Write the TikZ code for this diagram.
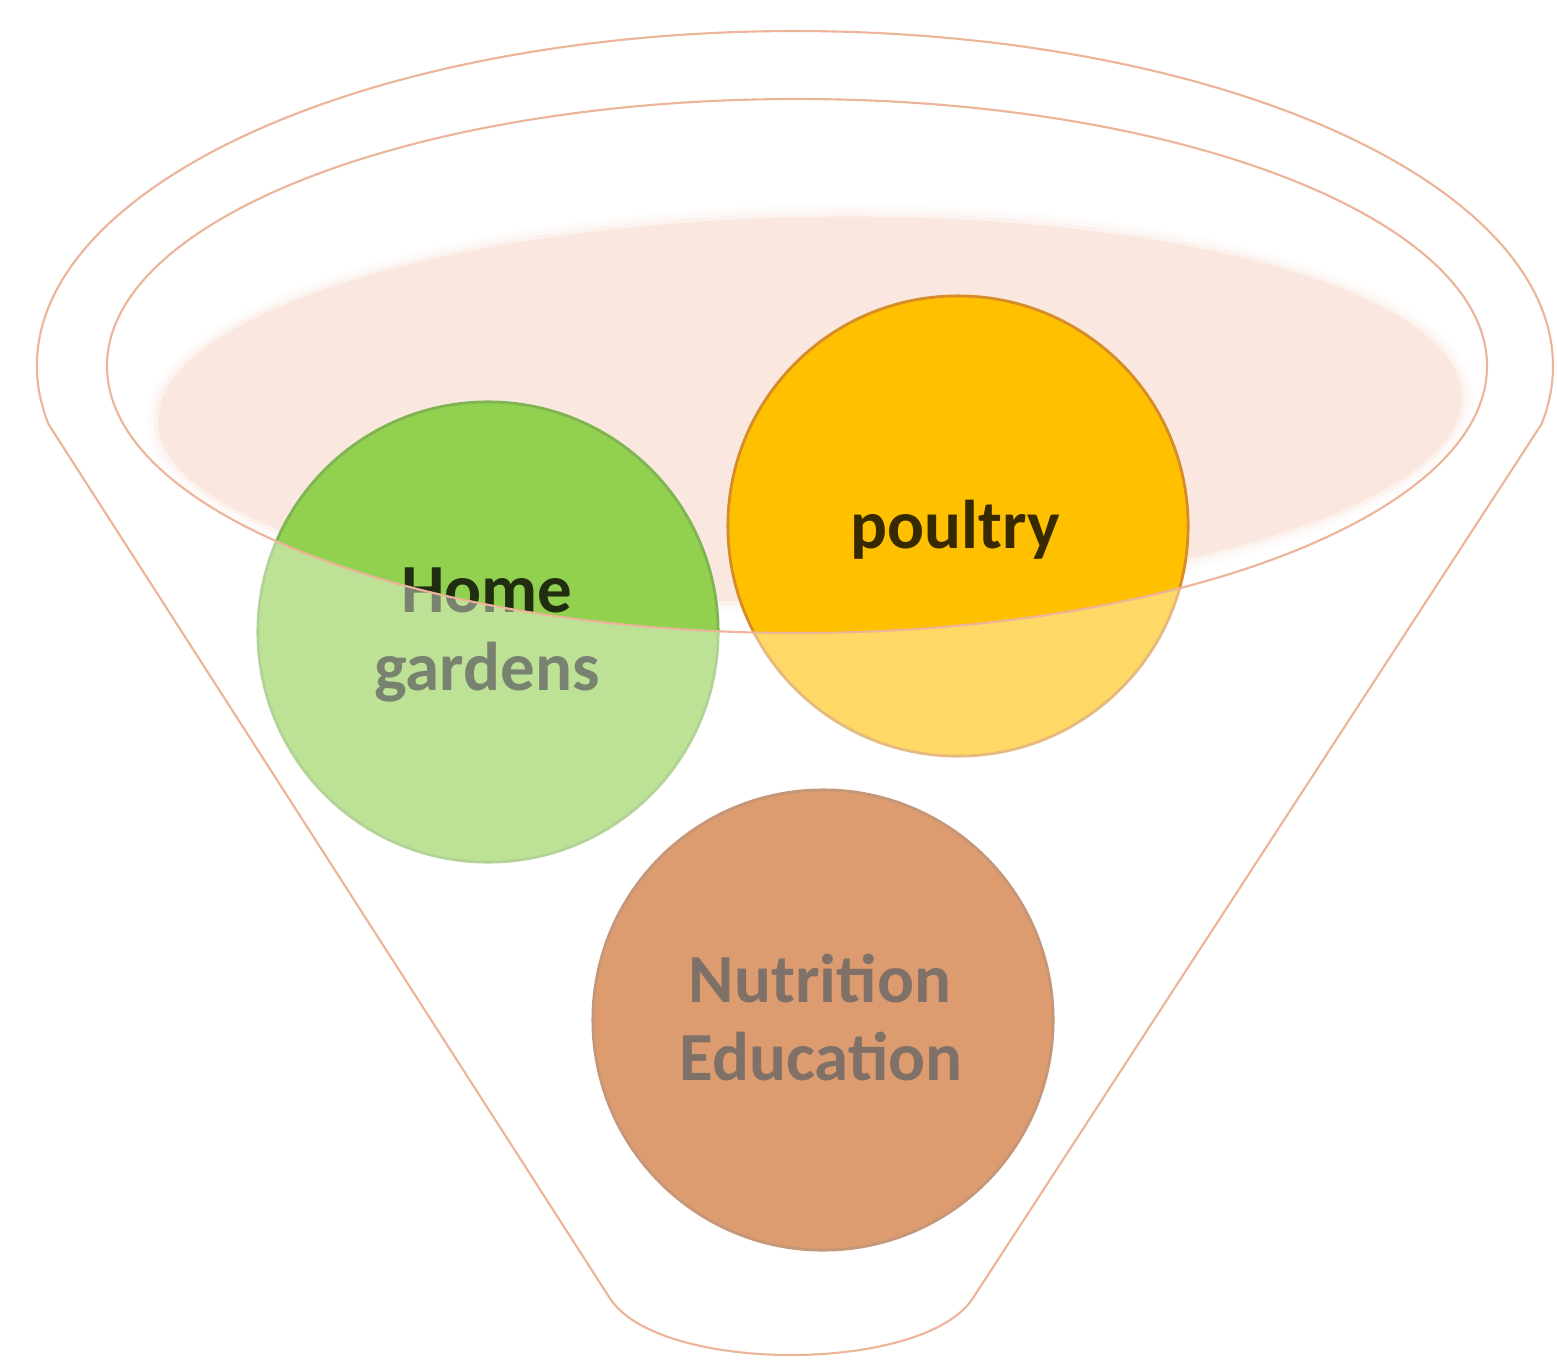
\documentclass[tikz,border=0pt]{standalone}
\usepackage{fontspec}
\setmainfont{Carlito}
\definecolor{pinkc}{RGB}{250,232,224}
\definecolor{greenc}{RGB}{146,208,80}
\definecolor{greenl}{RGB}{128,180,80}
\definecolor{yellowc}{RGB}{255,192,0}
\definecolor{yellowl}{RGB}{214,140,40}
\definecolor{brownc}{RGB}{197,90,17}
\definecolor{brownl}{RGB}{160,80,30}
\definecolor{rimc}{RGB}{236,180,152}
\begin{document}
\begin{tikzpicture}[x=0.01cm,y=-0.01cm,
  rimline/.style={draw=rimc, line width=0.6pt},
  disc/.style={circle, minimum size=4.6cm, inner sep=0pt, outer sep=0pt, line width=0.8pt},
  lbl/.style={anchor=base, inner sep=0pt, text=black, text opacity=0.78,
    font=\fontsize{19.6pt}{23pt}\selectfont\bfseries}]
\useasboundingbox (0,0) rectangle (1557,1360);
% soft pink pool
\begin{scope}[rotate around={1.1:(810,409)}]
\fill[pinkc, fill opacity=0.12] (810,409) ellipse[x radius=664, y radius=204];
\fill[pinkc, fill opacity=0.2] (810,409) ellipse[x radius=660, y radius=200];
\fill[pinkc, fill opacity=0.3] (810,409) ellipse[x radius=656, y radius=196];
\fill[pinkc] (810,409) ellipse[x radius=652, y radius=192];
\end{scope}
% circles
\node[disc, fill=greenc, draw=greenl] (hg) at (488,632) {};
\node[disc, fill=yellowc, draw=yellowl] (po) at (958,526) {};
\node[disc, fill=brownc, draw=brownl] (ne) at (823,1020) {};
% labels
\node[lbl] (hgA) at (487,612) {Home};
\node[lbl] (hgB) at (487,690) {gardens};
\node[lbl] (poA) at (955,548) {poultry};
\node[lbl] (neA) at (820,1002) {Nutrition};
\node[lbl] (neB) at (821,1080) {Education};
% washed-out funnel body (outside the rim)
\fill[white, fill opacity=0.4, even odd rule]
  (48.5,424.2) arc[start angle=170, end angle=370, x radius=758, y radius=335]
  -- (973,1298) .. controls (924,1374) and (658,1374) .. (609.7,1298) -- cycle
  (797,366) ellipse[x radius=690, y radius=267];
% funnel outline and rim
\draw[rimline]
  (48.5,424.2) arc[start angle=170, end angle=370, x radius=758, y radius=335]
  -- (973,1298) .. controls (924,1374) and (658,1374) .. (609.7,1298) -- cycle;
\draw[rimline] (797,366) ellipse[x radius=690, y radius=267];
\end{tikzpicture}
\end{document}
